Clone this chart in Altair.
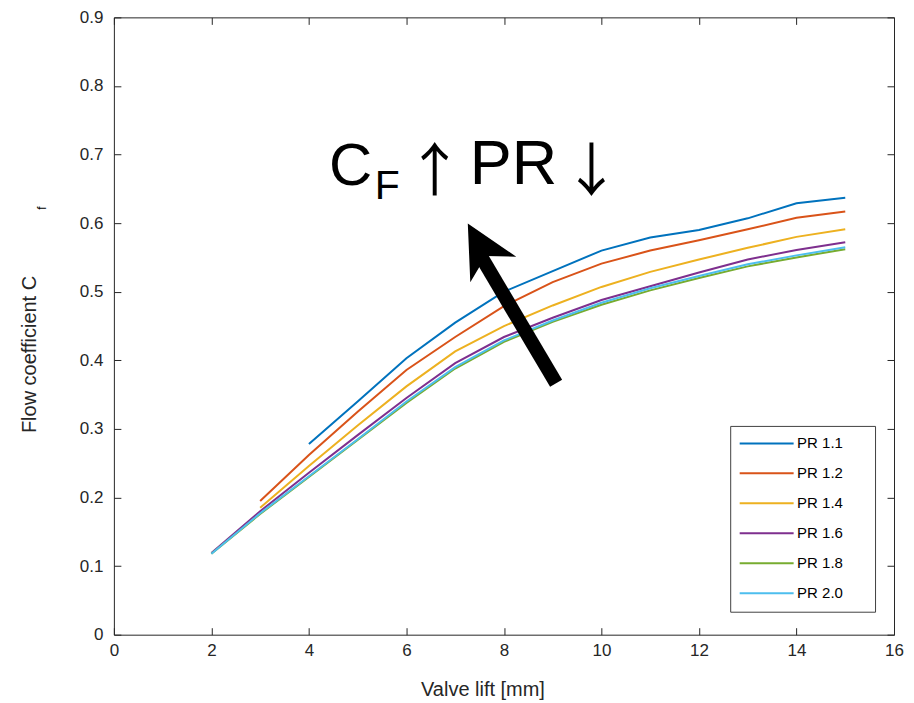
import altair as alt
import pandas as pd

FONT = "Liberation Sans"
AXC = "#262626"

lift = [2, 3, 4, 5, 6, 7, 8, 9, 10, 11, 12, 13, 14, 15]
series = ["PR 1.1", "PR 1.2", "PR 1.4", "PR 1.6", "PR 1.8", "PR 2.0"]
colors = ["#0072BD", "#D95319", "#EDB120", "#7E2F8E", "#77AC30", "#4DBEEE"]

cf_11 = [None, None, 0.278, 0.340, 0.403, 0.455, 0.500, 0.530, 0.560, 0.579, 0.590, 0.607, 0.629, 0.637]
cf_12 = [None, 0.195, 0.262, 0.325, 0.386, 0.434, 0.479, 0.514, 0.541, 0.560, 0.575, 0.591, 0.608, 0.617]
cf_14 = [None, 0.185, 0.246, 0.305, 0.362, 0.413, 0.450, 0.480, 0.507, 0.529, 0.547, 0.564, 0.580, 0.591]
cf_16 = [0.119, 0.180, 0.236, 0.291, 0.345, 0.396, 0.434, 0.462, 0.488, 0.508, 0.528, 0.547, 0.561, 0.572]
cf_18 = [0.118, 0.176, 0.230, 0.284, 0.338, 0.388, 0.427, 0.456, 0.481, 0.502, 0.520, 0.537, 0.550, 0.562]
cf_20 = [0.118, 0.177, 0.231, 0.285, 0.340, 0.390, 0.429, 0.458, 0.484, 0.505, 0.523, 0.540, 0.553, 0.565]

x_ticks = [0, 2, 4, 6, 8, 10, 12, 14, 16]
y_ticks = [0, 0.1, 0.2, 0.3, 0.4, 0.5, 0.6, 0.7, 0.8, 0.9]

# annotation anchor points (data units)
shaft_x = [9.07, 7.50]
shaft_y = [0.3665, 0.555]
head_x = [7.52]
head_y = [0.566]

rows = []
for name, vals in zip(series, [cf_11, cf_12, cf_14, cf_16, cf_18, cf_20]):
    for x, v in zip(lift, vals):
        if v is not None:
            rows.append({"lift": x, "cf": v, "series": name})
df = pd.DataFrame(rows)

xscale = alt.Scale(domain=[0, 16], nice=False)
yscale = alt.Scale(domain=[0, 0.9], nice=False)

x_axis = alt.Axis(values=x_ticks, title="Valve lift [mm]", ticks=False, tickSize=0, domain=False,
                  grid=True, gridDash=[7, 604], gridColor=AXC, gridOpacity=1, gridWidth=1,
                  labelFontSize=17, labelColor=AXC, labelPadding=8, labelFont=FONT,
                  labelFlush=False, labelOverlap=False,
                  titleFont=FONT, titleFontSize=20, titleFontWeight="normal", titleColor=AXC,
                  titleX=369, titleY=55, titleBaseline="middle")
y_axis = alt.Axis(values=y_ticks, title="Flow coefficient C", format="~g", ticks=False, tickSize=0,
                  domain=False, grid=True, gridDash=[7, 767], gridColor=AXC, gridOpacity=1, gridWidth=1,
                  labelFontSize=17, labelColor=AXC, labelPadding=11, labelFont=FONT,
                  labelFlush=False, labelOverlap=False,
                  titleFont=FONT, titleFontSize=20, titleFontWeight="normal", titleColor=AXC,
                  titleX=-84, titleY=337, titleBaseline="middle", titleAngle=270)

lines = alt.Chart(df).mark_line(strokeWidth=2).encode(
    x=alt.X("lift:Q", scale=xscale, axis=x_axis),
    y=alt.Y("cf:Q", scale=yscale, axis=y_axis),
    color=alt.Color("series:N", scale=alt.Scale(domain=series, range=colors),
                    legend=alt.Legend(title=None, orient="none", legendX=617, legendY=409,
                                      symbolType="M-5.4,0H5.4", symbolSize=100, symbolStrokeWidth=2,
                                      symbolOffset=19, symbolFillColor="transparent",
                                      labelFontSize=15, labelFont=FONT, labelColor="#000000",
                                      labelOffset=23, padding=10, rowPadding=14,
                                      strokeColor="#404040", fillColor="white",
                                      labelExpr="datum.label + '\u2800\u2800'")),
)

shaft_df = pd.DataFrame({"x": shaft_x, "y": shaft_y})
shaft = alt.Chart(shaft_df).mark_line(color="black", strokeWidth=14, strokeCap="butt").encode(
    x=alt.X("x:Q", scale=xscale), y=alt.Y("y:Q", scale=yscale))

head_df = pd.DataFrame({"x": head_x, "y": head_y})
head = alt.Chart(head_df).mark_point(shape="M0,-1L1,1L0,0.42L-1,1Z", filled=True, color="black",
                                     opacity=1, size=2770, angle=331, strokeWidth=0).encode(
    x=alt.X("x:Q", scale=xscale), y=alt.Y("y:Q", scale=yscale))


def txt(s, x, y, size, align="left", angle=0, font=FONT, baseline="alphabetic"):
    d = pd.DataFrame({"x": [x], "y": [y], "t": [s]})
    return alt.Chart(d).mark_text(align=align, baseline=baseline, fontSize=size, font=font,
                                  color="black", angle=angle).encode(
        x=alt.X("x:Q", scale=xscale), y=alt.Y("y:Q", scale=yscale), text="t:N")


ARW = "Noto Sans CJK JP"
t_c = txt("C", 4.41, 0.6553, 60)
t_f = txt("F", 5.35, 0.635, 41)
t_up = txt("\u2191", 6.578, 0.6713, 58, align="center", font=ARW, baseline="middle")
t_pr = txt("PR", 7.30, 0.6568, 63)
t_dn = txt("\u2193", 9.795, 0.6713, 58, align="center", font=ARW, baseline="middle")
t_sub = txt("f", -1.40, 0.622, 12, align="center", angle=270)

chart = alt.layer(lines, shaft, head, t_c, t_f, t_up, t_pr, t_dn, t_sub).properties(
    width=781, height=618,
    autosize=alt.AutoSizeParams(type="none"),
    padding={"left": 106, "top": 9, "right": 12, "bottom": 66},
    background="white",
).configure_view(stroke=AXC, strokeWidth=1)

chart.save("out.html", embed_options={"renderer": "svg", "actions": False})
